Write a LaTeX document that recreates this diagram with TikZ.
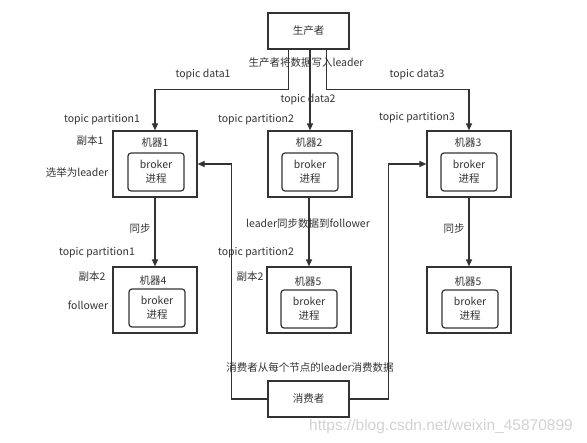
\documentclass[tikz,border=0pt]{standalone}
\usepackage{fontspec}
\setmainfont{Noto Sans CJK SC}
\newfontfamily\markfont{Liberation Sans}
\usepackage{tikz}
\usetikzlibrary{arrows.meta}
\definecolor{linegray}{HTML}{333333}
\definecolor{markgray}{HTML}{D2D2D2}
\tikzset{
  client/.style={draw=linegray, line width=1.2pt, minimum width=81pt, minimum height=36pt, text=linegray, font=\fontsize{10.5}{12}\selectfont},
  host/.style={draw=linegray, line width=1.2pt, minimum width=84pt, minimum height=66pt},
  proc/.style={draw=linegray, line width=1.2pt, rounded corners=3pt, minimum width=56pt, minimum height=38pt, align=center, inner sep=1pt, text=linegray, font=\fontsize{10.5}{14}\selectfont},
  lbl/.style={text=linegray, font=\fontsize{10.5}{12}\selectfont, inner sep=0pt},
  arr/.style={draw=linegray, line width=1.2pt, -{Triangle[length=7pt,width=6pt]}}
}
\begin{document}
\begin{tikzpicture}[x=1pt,y=-1pt]
            \useasboundingbox (0,0) rectangle (587,443);
            % Producer and consumer
            \node[client] (prod) at (308.5,31) {生产者};
            \node[client] (cons) at (308.5,399) {消费者};
            % Machines, leader row
            \node[host] (m1) at (155,164) {};
            \node[lbl] (t1) at (155,143) {机器1};
            \node[proc] (b1) at (156,172) {broker\\进程};
            \node[host] (m2) at (310,164) {};
            \node[lbl] (t2) at (309,143) {机器2};
            \node[proc] (b2) at (310,172) {broker\\进程};
            \node[host] (m3) at (469,164) {};
            \node[lbl] (t3) at (468,143) {机器3};
            \node[proc] (b3) at (469,172) {broker\\进程};
            % Machines, follower row
            \node[host] (m4) at (155,300) {};
            \node[lbl] (t4) at (153,281) {机器4};
            \node[proc] (b4) at (157,308) {broker\\进程};
            \node[host] (m5) at (309,300) {};
            \node[lbl] (t5) at (308,282) {机器5};
            \node[proc] (b5) at (309,309) {broker\\进程};
            \node[host] (m6) at (469,300) {};
            \node[lbl] (t6) at (468,282) {机器5};
            \node[proc] (b6) at (470,309) {broker\\进程};
            % Producer writes to leaders
            \draw[arr] ([xshift=-20pt]prod.south) -- ++(0,40) -| (m1.north);
            \draw[arr] (prod.south -| m2.north) -- (m2.north);
            \draw[arr] ([xshift=18pt]prod.south) -- ++(0,40) -| (m3.north);
            \node[lbl] (w0) at (306,63) {生产者将数据写入leader};
            \node[lbl] (w1) at (203,75) {topic data1};
            \node[lbl] (w2) at (308,100) {topic data2};
            \node[lbl] (w3) at (417,75) {topic data3};
            % Leader labels
            \node[lbl] (p1) at (102,120) {topic partition1};
            \node[lbl] (p2) at (256,120) {topic partition2};
            \node[lbl] (p3) at (417,118) {topic partition3};
            \node[lbl] (r1) at (90,141) {副本1};
            \node[lbl] (e1) at (77,172) {选举为leader};
            % Leader to follower
            \draw[arr] (m1.south) -- (m4.north);
            \draw[arr] (m2.south -| m5.north) -- (m5.north);
            \draw[arr] (m3.south) -- (m6.north);
            \node[lbl] (s1) at (140,229) {同步};
            \node[lbl] (s2) at (308,224) {leader同步数据到follower};
            \node[lbl] (s3) at (454,229) {同步};
            % Follower labels
            \node[lbl] (p4) at (97,253) {topic partition1};
            \node[lbl] (p5) at (256,253) {topic partition2};
            \node[lbl] (r2) at (92,277) {副本2};
            \node[lbl] (r3) at (250,277) {副本2};
            \node[lbl] (f1) at (88,305) {follower};
            % Consumer reads from leaders
            \draw[arr] (cons.west) -- ++(-36,0) |- (m1.east);
            \draw[arr] (cons.east) -- ++(39,0) |- (m3.west);
            \node[lbl] (c0) at (310,367) {消费者从每个节点的leader消费数据};
            % Watermark
            \node[inner sep=0pt, text=markgray, font=\markfont\fontsize{15.5}{17}\selectfont] (wm) at (441,426) {https://blog.csdn.net/weixin\_45870899};
        \end{tikzpicture}
\end{document}
